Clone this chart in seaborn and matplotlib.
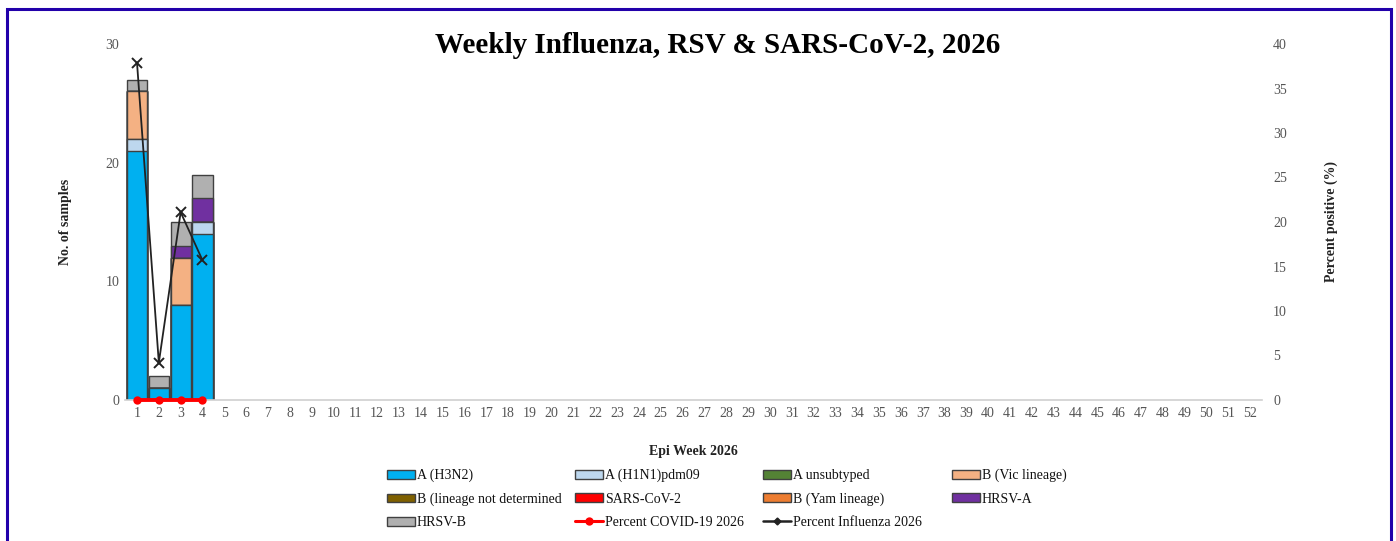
import matplotlib
matplotlib.use("Agg")
import numpy as np
import pandas as pd
import matplotlib.pyplot as plt
import seaborn as sns
from matplotlib.patches import Patch, Rectangle
from matplotlib.lines import Line2D

# data
weeks = [1, 2, 3, 4]
all_weeks = list(range(1, 53))
h3n2 = [21, 1, 8, 14]
h1n1 = [1, 0, 0, 1]
a_unsub = [0, 0, 0, 0]
b_vic = [4, 0, 4, 0]
b_nd = [0, 0, 0, 0]
sars_cov2 = [0, 0, 0, 0]
b_yam = [0, 0, 0, 0]
hrsv_a = [0, 0, 1, 2]
hrsv_b = [1, 1, 2, 2]
pct_covid = [0, 0, 0, 0]
pct_flu = [37.9, 4.2, 21.1, 15.7]

names = ["A (H3N2)", "A (H1N1)pdm09", "A unsubtyped", "B (Vic lineage)",
         "B (lineage not determined", "SARS-CoV-2", "B (Yam lineage)",
         "HRSV-A", "HRSV-B"]
colors = ["#00b0f0", "#bdd7ee", "#548235", "#f4b183",
          "#7f6000", "#ff0000", "#ed7d31", "#7030a0", "#b0b0b0"]

df = pd.DataFrame(dict(zip(names, [h3n2, h1n1, a_unsub, b_vic, b_nd,
                                   sars_cov2, b_yam, hrsv_a, hrsv_b])))
df["week"] = weeks
cum = df[names].cumsum(axis=1)

sns.set_theme(style="white")
plt.rcParams["font.family"] = ["Liberation Serif", "DejaVu Serif"]

fig = plt.figure(figsize=(13.96, 5.41), dpi=100)
ax = fig.add_axes([125 / 1396, 1 - 400 / 541, 1137 / 1396, 356 / 541])

# stacked bars: draw cumulative totals from the top layer down
for name, col in reversed(list(zip(names, colors))):
    sns.barplot(x=df["week"], y=cum[name], native_scale=True, color=col,
                saturation=1, edgecolor="#404040", linewidth=1.0,
                width=0.92, errorbar=None, ax=ax)

ax.set_xlim(0.45, 52.55)
ax.set_ylim(0, 30)
ax.set_xticks(all_weeks)
ax.set_xticklabels([str(w) for w in all_weeks])
ax.set_yticks([0, 10, 20, 30])
ax.tick_params(axis="both", length=0, labelsize=10, colors="#555555")
ax.tick_params(axis="x", pad=5)
ax.tick_params(axis="y", pad=4)
for s in ["left", "right", "top"]:
    ax.spines[s].set_visible(False)
ax.spines["bottom"].set_color("#d0d0d0")
ax.spines["bottom"].set_linewidth(1.2)
ax.set_xlabel("Epi Week 2026", fontsize=10, fontweight="bold", color="#222222")
ax.set_ylabel("No. of samples", fontsize=10, fontweight="bold", color="#222222")
ax.xaxis.set_label_coords(0.5, -0.125)
ax.yaxis.set_label_coords(-0.047, 0.5)

ax2 = ax.twinx()
sns.lineplot(x=weeks, y=pct_flu, ax=ax2, color="#222222", marker="x",
             markersize=7, markeredgewidth=1.4, markeredgecolor="#222222",
             linewidth=1.3, clip_on=False)
sns.lineplot(x=weeks, y=pct_covid, ax=ax2, color="#ff0000", marker="o",
             markersize=6, markeredgewidth=0, linewidth=2.8, clip_on=False)
ax2.set_ylim(0, 40)
ax2.set_yticks(range(0, 41, 5))
ax2.tick_params(axis="y", length=0, labelsize=10, colors="#555555", pad=8)
for s in ax2.spines.values():
    s.set_visible(False)
ax2.set_ylabel("Percent positive (%)", fontsize=10, fontweight="bold",
               color="#222222")
ax2.yaxis.set_label_coords(1.055, 0.5)

fig.text(0.514, 0.916, "Weekly Influenza, RSV & SARS-CoV-2, 2026",
         fontsize=21, fontweight="bold", ha="center", va="center",
         color="#000000")

# legend, laid out in four fixed columns
def patch(i):
    return Patch(facecolor=colors[i], edgecolor="#404040", linewidth=1.0,
                 label=names[i])

covid_h = Line2D([], [], color="#ff0000", lw=2.2, marker="o", markersize=6,
                 markeredgewidth=0, label="Percent COVID-19 2026")
flu_h = Line2D([], [], color="#222222", lw=1.8, marker="D", markersize=3.5,
               label="Percent Influenza 2026")
columns = [
    [patch(0), patch(4), patch(8)],
    [patch(1), patch(5), covid_h],
    [patch(2), patch(6), flu_h],
    [patch(3), patch(7)],
]
col_x = [387, 575, 763, 952]
for x, hs in zip(col_x, columns):
    leg = fig.legend(handles=hs, loc="upper left",
                     bbox_to_anchor=(x / 1396, 1 - 469 / 541),
                     frameon=False, fontsize=10, borderpad=0,
                     borderaxespad=0, handlelength=2.0, handleheight=0.6,
                     handletextpad=0.15, labelspacing=0.73)
    for t in leg.get_texts():
        t.set_color("#111111")

# blue frame around the figure
fig.patches.append(Rectangle((7 / 1396, -0.05), (1391 - 7) / 1396,
                             (1 - 9 / 541) + 0.05, transform=fig.transFigure,
                             fill=False, edgecolor="#2200aa", linewidth=2.2))

fig.savefig("out.png", dpi=100)
